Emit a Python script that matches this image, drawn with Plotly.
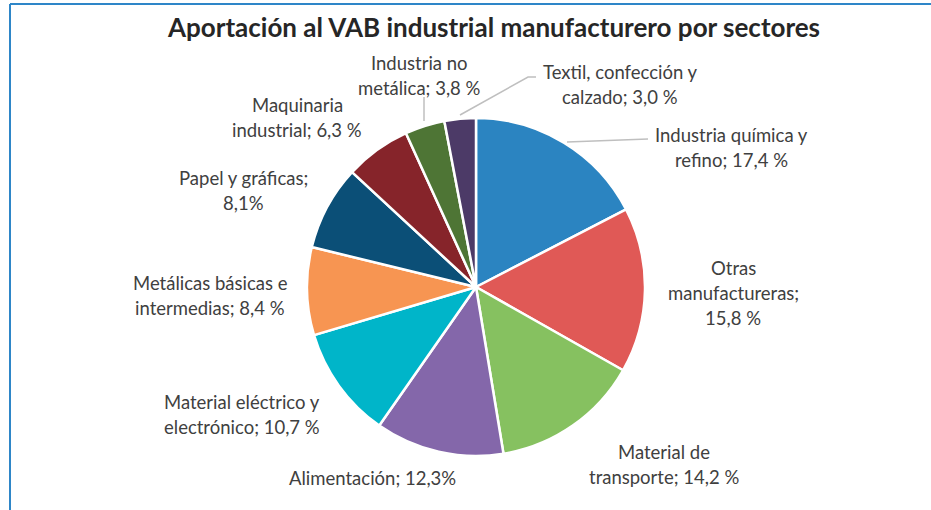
import plotly.graph_objects as go

W, H = 931, 510

sectors = [
    "Industria química y refino", "Otras manufactureras", "Material de transporte",
    "Alimentación", "Material eléctrico y electrónico", "Metálicas básicas e intermedias",
    "Papel y gráficas", "Maquinaria industrial", "Industria no metálica",
    "Textil, confección y calzado",
]
values = [17.4, 15.8, 14.2, 12.3, 10.7, 8.4, 8.1, 6.3, 3.8, 3.0]
label_texts = [
    "Industria química y<br>refino; 17,4 %",
    "Otras<br>manufactureras;<br>15,8 %",
    "Material de<br>transporte; 14,2 %",
    "Alimentación; 12,3%",
    "Material eléctrico y<br>electrónico; 10,7 %",
    "Metálicas básicas e<br>intermedias; 8,4 %",
    "Papel y gráficas;<br>8,1%",
    "Maquinaria<br>industrial; 6,3 %",
    "Industria no<br>metálica; 3,8 %",
    "Textil, confección y<br>calzado; 3,0 %",
]
colors = ["#2B84C1", "#E05956", "#86C160", "#8467AA", "#00B5C9",
          "#F79552", "#0B4F77", "#86242A", "#4E7535", "#4C3A67"]

# label positions: centre x, centre y of first line (pixels)
label_pos = [(731, 135), (733, 268), (664, 452), (372, 478), (242, 402),
             (210, 283), (243, 178), (297, 105), (419, 63), (620, 72)]
LINE_H = 25

cx, cy, r = 476, 287, 169

fig = go.Figure(go.Pie(
    labels=sectors, values=values, sort=False, direction="clockwise", rotation=0,
    marker=dict(colors=colors, line=dict(color="white", width=2.5)),
    textinfo="none", hoverinfo="label+value", showlegend=False,
    domain=dict(x=[(cx - r) / W, (cx + r) / W], y=[(H - cy - r) / H, (H - cy + r) / H]),
))

def px(x, y):
    return x / W, 1 - y / H

FONT = "Lato, Open Sans, sans-serif"
for t, (x, y) in zip(label_texts, label_pos):
    for i, line in enumerate(t.split("<br>")):
        xx, yy = px(x, y + i * LINE_H)
        fig.add_annotation(x=xx, y=yy, xref="paper", yref="paper", text=line, showarrow=False,
                           xanchor="center", yanchor="middle", align="center",
                           font=dict(family=FONT, size=18.5, color="#404040"))

leaders = [
    [(567, 142), (648, 139)],
    [(424, 121), (424, 97)],
    [(460, 115), (528, 77), (536, 77)],
]
for pts in leaders:
    path = "M " + " L ".join(f"{px(x, y)[0]},{px(x, y)[1]}" for x, y in pts)
    fig.add_shape(type="path", path=path, xref="paper", yref="paper",
                  line=dict(color="#BFBFBF", width=1.5))

# chart frame lines
fig.add_shape(type="line", xref="paper", yref="paper", x0=10 / W, x1=1, y0=1 - 4 / H, y1=1 - 4 / H,
              line=dict(color="#2E86C8", width=2))
fig.add_shape(type="line", xref="paper", yref="paper", x0=10 / W, x1=10 / W, y0=1 - 4 / H, y1=0,
              line=dict(color="#2E86C8", width=2))

fig.update_layout(
    width=W, height=H, margin=dict(l=0, r=0, t=0, b=0),
    paper_bgcolor="white", plot_bgcolor="white",
    title=dict(text="<b>Aportación al VAB industrial manufacturero por sectores</b>",
               x=494 / W, xanchor="center", y=1 - 28 / H, yanchor="middle",
               font=dict(family=FONT, size=26, color="#262626")),
)

fig.write_html("out.html", config={"displayModeBar": False},
               post_script="document.body.style.margin='0';document.body.style.overflow='hidden';")
